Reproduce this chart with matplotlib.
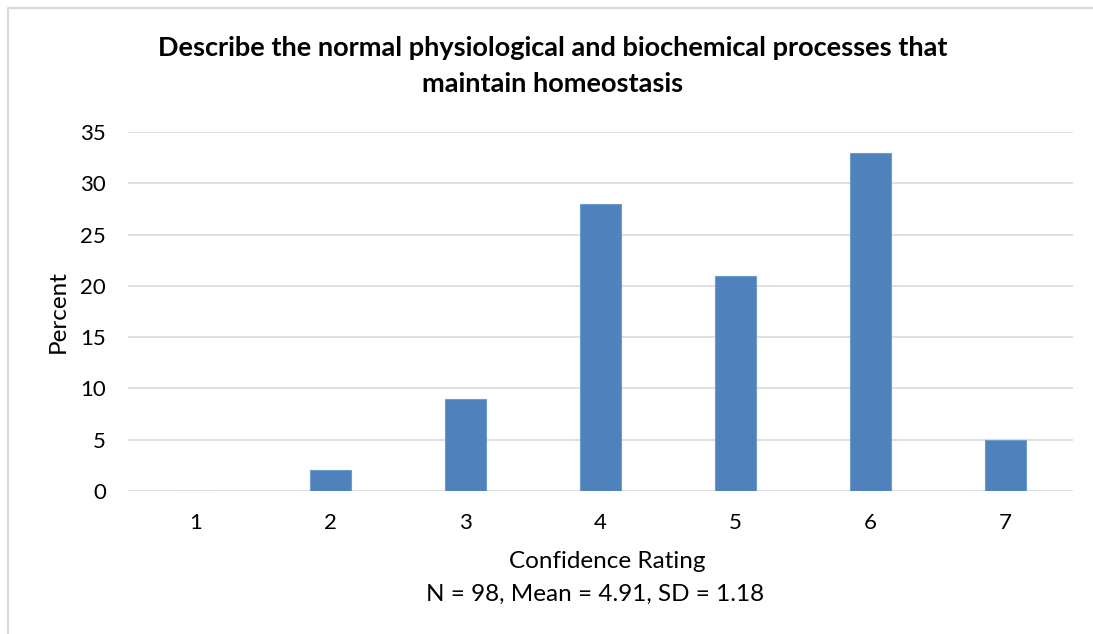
import matplotlib
matplotlib.use("Agg")
import matplotlib.pyplot as plt
from matplotlib.lines import Line2D

# confidence ratings and percent of respondents
ratings = ["1", "2", "3", "4", "5", "6", "7"]
percent = [0, 2, 9, 28, 21, 33, 5]
y_ticks = [0, 5, 10, 15, 20, 25, 30, 35]

title = "Describe the normal physiological and biochemical processes that\nmaintain homeostasis"
x_label = "Confidence Rating"
sub_label = "N = 98, Mean = 4.91, SD = 1.18"

plt.rcParams['font.family'] = ['Lato', 'DejaVu Sans']

W, H = 1093, 634
fig = plt.figure(figsize=(W / 100, H / 100), dpi=100)
ax = fig.add_axes([128 / W, 1 - 491 / H, (1073 - 128) / W, (491 - 132) / H])

x = range(len(ratings))
ax.bar(x, percent, width=0.31, color="#4F81BD", edgecolor="#6F9AD0", linewidth=0.8, zorder=3)

ax.set_xlim(-0.5, len(ratings) - 0.5)
ax.set_ylim(0, 35)
ax.set_yticks(y_ticks)
ax.set_xticks(list(x))
ax.set_xticklabels(ratings)
ax.grid(axis="y", color="#D9D9D9", linewidth=1.2, zorder=0)
ax.tick_params(axis="both", length=0, labelsize=16, colors="#000000")
ax.tick_params(axis="x", pad=16)
ax.tick_params(axis="y", pad=16)
for s in ax.spines.values():
    s.set_visible(False)

fig.text(58 / W, 1 - 312 / H, "Percent", rotation=90, ha="center", va="center", fontsize=17.5)
fig.text(607 / W, 1 - 561 / H, x_label, ha="center", va="center", fontsize=17.5)
fig.text(595 / W, 1 - 594 / H, sub_label, ha="center", va="center", fontsize=17.5)

fig.text(553 / W, 1 - 66 / H, title, ha="center", va="center", fontsize=19.5,
         fontweight="bold", linespacing=1.65)

# chart area border (only top and left edges are inside the crop)
fig.lines.append(Line2D([7.5 / W, 7.5 / W, 1.0], [0.0, 1 - 7.5 / H, 1 - 7.5 / H],
                        transform=fig.transFigure, color="#D9D9D9", linewidth=1.5))

fig.savefig("out.png", dpi=100)
